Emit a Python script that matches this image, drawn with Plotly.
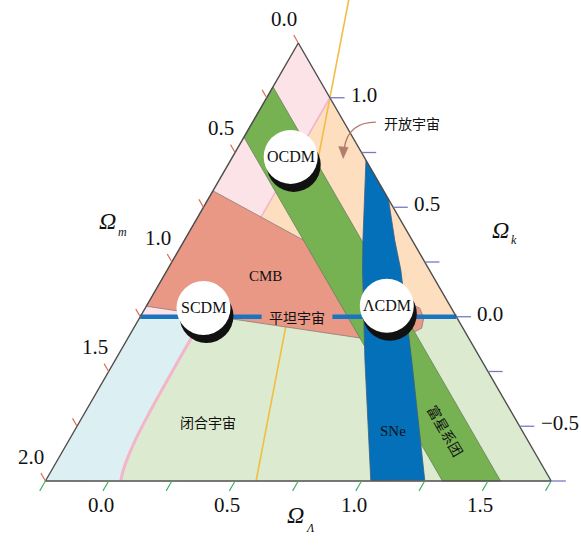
import math
import plotly.graph_objects as go

# ---------------- data: (Omega_m, Omega_Lambda) pairs, Omega_k = 1 - Omega_m - Omega_Lambda ----------------
# triangle limits (every axis spans 2.0)
OM_MIN, OL_MIN, OK_MIN = 0.0, -0.25, -0.75

om_ticks = [0.0, 0.25, 0.5, 0.75, 1.0, 1.25, 1.5, 1.75, 2.0]
ol_ticks = [-0.25, 0.0, 0.25, 0.5, 0.75, 1.0, 1.25, 1.5, 1.75]
ok_ticks = [1.0, 0.75, 0.5, 0.25, 0.0, -0.25, -0.5, -0.75]

om_label_vals = [0.0, 0.5, 1.0, 1.5, 2.0]
om_label_text = ["0.0", "0.5", "1.0", "1.5", "2.0"]
ol_label_vals = [0.0, 0.5, 1.0, 1.5]
ol_label_text = ["0.0", "0.5", "1.0", "1.5"]
ok_label_vals = [1.0, 0.5, 0.0, -0.5]
ok_label_text = ["1.0", "0.5", "0.0", "−0.5"]

# recollapse / eternal expansion boundary
recollapse_om = [0.0, 1.0, 1.2, 1.35, 1.45, 1.55, 1.62, 1.67, 1.70]
recollapse_ol = [0.0, 0.0, 0.001, 0.003, 0.006, 0.012, 0.022, 0.034, 0.047]

# accelerating / decelerating boundary (end points)
accel_om = [-0.32, 1.167]
accel_ol = [-0.16, 0.583]

# rich clusters: Omega_m band
cluster_om = [0.20, 0.43]

# supernovae band edges
sne_left_om = [0.0, 0.195, 0.265, 0.461, 0.712]
sne_left_ol = [0.285, 0.456, 0.523, 0.738, 1.035]
sne_right_om = [0.0, 0.069, 0.113, 0.276, 0.498]
sne_right_ol = [0.463, 0.582, 0.674, 0.923, 1.248]

# CMB region outline
cmb_om = [0.675, 0.43, 0.15, 0.125, 0.132, 0.163, 0.204, 0.264, 0.418, 1.202]
cmb_ol = [-0.25, 0.22, 0.79, 0.836, 0.874, 0.889, 0.867, 0.816, 0.681, -0.25]

# flat-universe line: gap left for its label (Omega_Lambda range)
flat_gap_ol = [0.23, 0.51]

# model universes
model_names = ["OCDM", "SCDM", "ΛCDM"]
model_om = [0.29, 0.98, 0.25]
model_ol = [-0.02, -0.02, 0.70]

# region labels
label_text = ["CMB", "闭合宇宙", "SNe"]
label_om = [0.664, 1.223, 0.513]
label_ol = [0.151, 0.256, 1.010]
flat_label = ("平坦宇宙", 0.63, 0.37)
cluster_label = ("富星系团", 0.30, 1.22)
open_label = ("开放宇宙", -0.266, 0.382)
open_arrow_tip = (0.086, 0.191)

# axis titles: subscript, paper x where Omega ends, paper y of Omega, subscript drop (px)
axis_titles = [("m", 117 / 581, 1 - 221 / 549, 11),
               ("k", 510 / 581, 1 - 230 / 549, 10),
               ("Λ", 305 / 581, 1 - 529 / 549, 7)]

# ---------------- styling ----------------
PINK = "#FCE3E7"
PEACH = "#FDDFBF"
LBLUE = "#DCEFF2"
LGREEN = "#DCEBCF"
SALMON = "#E99886"
GREEN = "#76B251"
BLUE = "#0370B9"
FLAT = "#1A74BF"
PINKLINE = "#F2B5CA"
ORANGE = "#F2BD45"
EDGE = "#4D4D4D"
SERIF = "Liberation Serif"
CJK = "Noto Sans CJK SC"

SQ3 = math.sqrt(3.0)
PX = 219.0  # pixels per data unit


def to_xy(om, ol):
    """Cartesian position of a point of the cosmic triangle."""
    return (ol - om + 0.25) / SQ3, 1.0 - om - ol


def path_xy(oms, ols):
    pts = [to_xy(a, b) for a, b in zip(oms, ols)]
    return [p[0] for p in pts], [p[1] for p in pts]


fig = go.Figure()


def add_poly(oms, ols, color, line_color=None, line_width=0.0):
    xs, ys = path_xy(list(oms) + [oms[0]], list(ols) + [ols[0]])
    fig.add_trace(go.Scatter(
        x=xs, y=ys, mode="lines", fill="toself", fillcolor=color,
        line=dict(color=line_color or color, width=line_width),
        hoverinfo="skip"))


def add_line(oms, ols, color, width, shape="linear"):
    xs, ys = path_xy(oms, ols)
    fig.add_trace(go.Scatter(x=xs, y=ys, mode="lines",
                             line=dict(color=color, width=width, shape=shape),
                             hoverinfo="skip"))


# corners and flat-line intersections
apex = (OM_MIN, OL_MIN)
bl = (1.0 - OL_MIN - OK_MIN, OL_MIN)
br = (OM_MIN, 1.0 - OM_MIN - OK_MIN)
flat_left = (1.0 - OL_MIN, OL_MIN)
flat_right = (OM_MIN, 1.0 - OM_MIN)
flat_mid = (recollapse_om[1], recollapse_ol[1])
lam0_top = (recollapse_om[0], recollapse_ol[0])

lower_om = recollapse_om[1:]
lower_ol = recollapse_ol[1:]

# background regions
add_poly([apex[0], lam0_top[0], flat_mid[0], flat_left[0]],
         [apex[1], lam0_top[1], flat_mid[1], flat_left[1]], PINK)
add_poly([lam0_top[0], flat_right[0], flat_mid[0]],
         [lam0_top[1], flat_right[1], flat_mid[1]], PEACH)
add_poly([flat_left[0]] + lower_om + [bl[0]],
         [flat_left[1]] + lower_ol + [bl[1]], LBLUE)
add_poly([flat_right[0], br[0]] + lower_om[::-1],
         [flat_right[1], br[1]] + lower_ol[::-1], LGREEN)

# accelerating / decelerating line
add_line(accel_om, accel_ol, ORANGE, 1.6)

# recollapse boundary
add_line(recollapse_om[:2], recollapse_ol[:2], PINKLINE, 1.6)
add_line(lower_om, lower_ol, PINKLINE, 3.0, shape="spline")

# CMB
add_poly(cmb_om, cmb_ol, SALMON, "#8C7C78", 0.8)

# cluster band
c0, c1 = cluster_om
add_poly([c0, c1, c1, c0],
         [OL_MIN, OL_MIN, 1.0 - c1 - OK_MIN, 1.0 - c0 - OK_MIN],
         GREEN, "#6A7F5F", 0.8)

# supernovae band
add_poly(sne_left_om + sne_right_om[::-1], sne_left_ol + sne_right_ol[::-1],
         BLUE, "#3D5F80", 0.8)

# flat universe line, split around its label
g0, g1 = flat_gap_ol
add_line([flat_left[0], 1.0 - g0], [flat_left[1], g0], FLAT, 4.5)
add_line([1.0 - g1, flat_right[0]], [g1, flat_right[1]], FLAT, 4.5)

# triangle outline
add_line([apex[0], bl[0], br[0], apex[0]], [apex[1], bl[1], br[1], apex[1]], EDGE, 1.4)

# ticks
tx, ty = [], []
for v in om_ticks:  # along Omega_m iso-lines, outward
    a = to_xy(v, OL_MIN)
    b = to_xy(v, OL_MIN - 0.036)
    tx += [a[0], b[0], None]
    ty += [a[1], b[1], None]
fig.add_trace(go.Scatter(x=tx, y=ty, mode="lines",
                         line=dict(color="#E0654A", width=1.1), hoverinfo="skip"))
tx, ty = [], []
for v in ol_ticks:  # along Omega_Lambda iso-lines, outward
    a = to_xy(1.0 - v - OK_MIN, v)
    b = to_xy(1.0 - v - (OK_MIN - 0.045), v)
    tx += [a[0], b[0], None]
    ty += [a[1], b[1], None]
fig.add_trace(go.Scatter(x=tx, y=ty, mode="lines",
                         line=dict(color="#3DAF5C", width=1.1), hoverinfo="skip"))
tx, ty = [], []
for v in ok_ticks:  # along Omega_k iso-lines, outward
    a = to_xy(OM_MIN, 1.0 - OM_MIN - v)
    b = to_xy(OM_MIN - 0.058, 1.0 - (OM_MIN - 0.058) - v)
    tx += [a[0], b[0], None]
    ty += [a[1], b[1], None]
fig.add_trace(go.Scatter(x=tx, y=ty, mode="lines",
                         line=dict(color="#7878C4", width=1.3), hoverinfo="skip"))

# model discs with drop shadow
mx, my = path_xy(model_om, model_ol)
fig.add_trace(go.Scatter(x=[v + 3 / PX for v in mx], y=[v - 8 / PX for v in my],
                         mode="markers", marker=dict(size=54, color="#111111"),
                         hoverinfo="skip"))
fig.add_trace(go.Scatter(x=mx, y=my, mode="markers",
                         marker=dict(size=54, color="white"), hoverinfo="skip"))

annotations = []


def note(text, om, ol, size=15, family=SERIF, **kw):
    x, y = to_xy(om, ol)
    annotations.append(dict(x=x, y=y, xref="x", yref="y", text=text, showarrow=False,
                            font=dict(family=family, size=size, color="#111111"), **kw))


# model names
for name, a, b in zip(model_names, model_om, model_ol):
    note(name, a, b, size=16)

# tick labels
for v, t in zip(om_label_vals, om_label_text):
    note(t, v, OL_MIN, size=21, xshift=-14, yshift=24.5)
for v, t in zip(ol_label_vals, ol_label_text):
    note(t, 1.0 - v - OK_MIN, v, size=21, xshift=-8, yshift=-24)
for v, t in zip(ok_label_vals, ok_label_text):
    note(t, OM_MIN, 1.0 - OM_MIN - v, size=21, xanchor="left", xshift=19, yshift=3)

# region labels
note(label_text[0], label_om[0], label_ol[0], size=15)
note(label_text[1], label_om[1], label_ol[1], size=14, family=CJK)
note(label_text[2], label_om[2], label_ol[2], size=15)
note(flat_label[0], flat_label[1], flat_label[2], size=14, family=CJK)
note(cluster_label[0], cluster_label[1], cluster_label[2], size=14, family=CJK, textangle=60)
note(open_label[0], open_label[1], open_label[2], size=14, family=CJK)

# curved arrow pointing into the open-universe region
tip_x, tip_y = to_xy(*open_arrow_tip)
ox, oy = to_xy(open_label[1], open_label[2])
start_x, start_y = ox - 36 / PX, oy + 1 / PX
ctrl_x, ctrl_y = tip_x + 5 / PX, start_y
end_x, end_y = tip_x + 1 / PX, tip_y + 10 / PX
fig.add_shape(type="path",
              path=f"M {start_x},{start_y} Q {ctrl_x},{ctrl_y} {end_x},{end_y}",
              line=dict(color="#B57B6A", width=1.4))
fig.add_shape(type="path",
              path=(f"M {tip_x},{tip_y} L {tip_x - 4.5 / PX},{tip_y + 12 / PX} "
                    f"L {tip_x + 5 / PX},{tip_y + 11 / PX} Z"),
              line=dict(color="#B57B6A", width=0.5), fillcolor="#B57B6A")

# axis titles: italic Omega with a smaller italic subscript right after it
for sub, px_, py_, drop in axis_titles:
    annotations.append(dict(x=px_, y=py_, xref="paper", yref="paper", showarrow=False,
                            xanchor="right", borderpad=0,
                            text="<i>Ω</i>", font=dict(family=SERIF, size=24, color="#111")))
    annotations.append(dict(x=px_, y=py_, xref="paper", yref="paper", showarrow=False,
                            xanchor="left", borderpad=0, yshift=-drop,
                            text=f"<i>{sub}</i>", font=dict(family=SERIF, size=12, color="#111")))

fig.update_layout(
    width=581, height=549, margin=dict(l=0, r=0, t=0, b=0),
    paper_bgcolor="white", plot_bgcolor="white", showlegend=False,
    xaxis=dict(visible=False, range=[-298.3 / PX, (581 - 298.3) / PX], fixedrange=True),
    yaxis=dict(visible=False, range=[1.25 - (549 - 43) / PX, 1.25 + 43 / PX], fixedrange=True),
    annotations=annotations,
)

fig.write_html("out.html")
